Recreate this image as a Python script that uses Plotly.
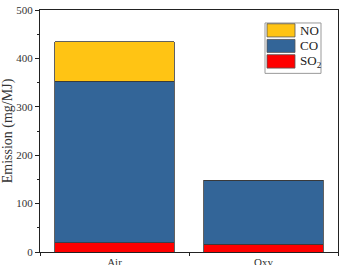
import plotly.graph_objects as go

categories = ["Air", "Oxy"]
so2 = [19, 16]
co = [334, 132]
no = [81, 0]
series_names = ["SO<sub>2</sub>", "CO", "NO"]
colors = ["#FF0000", "#336598", "#FFC414"]
y_ticks = [0, 100, 200, 300, 400, 500]

W, H = 345, 265
L, R, T, B = 40, 7, 9.5, 13
pw, ph = W - L - R, H - T - B

def px(x):
    return (x - L) / pw

def py(y):
    return 1 - (y - T) / ph

fig = go.Figure()
for name, vals, col in zip(series_names, [so2, co, no], colors):
    fig.add_trace(go.Bar(x=categories, y=vals, name=name, marker_color=col,
                         marker_line=dict(color="#3a3a3a", width=0.8), showlegend=False))

fig.update_layout(
    barmode="stack", bargap=0.2, width=W, height=H,
    margin=dict(l=L, r=R, t=T, b=B, autoexpand=False),
    plot_bgcolor="white", paper_bgcolor="white",
    font=dict(family="Liberation Serif", size=11, color="#333"),
    xaxis=dict(range=[-0.5, 1.5], showline=True, linecolor="#222", linewidth=1, mirror=True,
               ticks="outside", tickson="boundaries", ticklen=3, tickcolor="#222",
               showgrid=False, tickfont=dict(size=11)),
    yaxis=dict(range=[0, 500], tickvals=y_ticks, showline=True, linecolor="#222", linewidth=1,
               mirror=True, ticks="outside", ticklen=4, tickcolor="#222", showgrid=False,
               minor=dict(ticks="outside", ticklen=2, dtick=50, tickcolor="#222"),
               title=dict(text="Emission (mg/MJ)", font=dict(size=14), standoff=4),
               tickfont=dict(size=11), zeroline=False),
)

# legend drawn manually
shapes = [dict(type="rect", xref="paper", yref="paper", x0=px(265), x1=px(321), y0=py(73), y1=py(22.5),
               line=dict(color="#999", width=1), fillcolor="white")]
rows = [(series_names[2], colors[2], 23.3, 36.5), (series_names[1], colors[1], 39, 52), (series_names[0], colors[0], 54.3, 67.7)]
annotations = []
for name, col, y0, y1 in rows:
    shapes.append(dict(type="rect", xref="paper", yref="paper", x0=px(267), x1=px(295), y0=py(y1), y1=py(y0),
                       line=dict(color="#555", width=0.8), fillcolor=col))
    annotations.append(dict(xref="paper", yref="paper", x=px(298), y=py((y0 + y1) / 2), text=name,
                            showarrow=False, xanchor="left", yanchor="middle",
                            font=dict(family="Liberation Serif", size=13, color="#222")))
fig.update_layout(shapes=shapes, annotations=annotations)
fig.write_html("out.html")
